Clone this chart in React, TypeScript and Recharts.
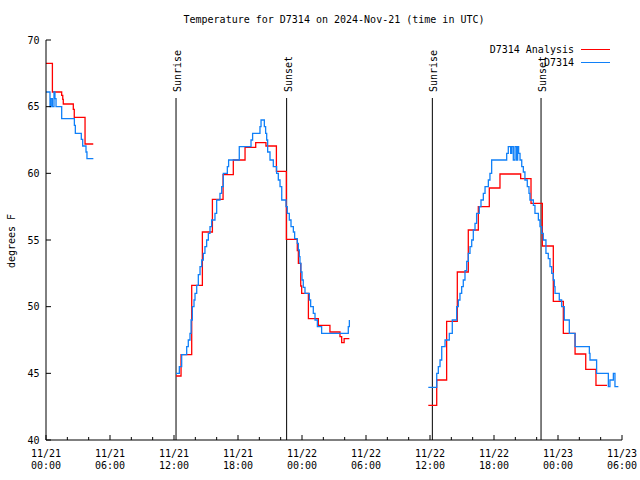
import React from "react";
import { LineChart, Line, XAxis, YAxis, ReferenceLine } from "recharts";

const FONT = "'DejaVu Sans Mono', 'Liberation Mono', monospace";
const RED = "#ff0000";
const BLUE = "#1080f8";

// x = hours since 11/21 00:00 UTC, y = degrees F
const analysisSeg1: [number, number][] = [
  [0, 68.25], [0.6, 66.1], [1.47, 65.85], [1.57, 65.55], [1.62, 65.2],
  [2.56, 64.8], [2.65, 64.2], [3.66, 62.2], [4.43, 62.2],
];
const analysisSeg2: [number, number][] = [
  [12.19, 44.8], [12.66, 46.4], [13.66, 51.6], [14.66, 55.6], [15.6, 58.05],
  [16.6, 59.9], [17.56, 61.0], [18.66, 61.95], [19.66, 62.3], [20.62, 62.05],
  [21.6, 60.15], [22.53, 55.05], [23.56, 54.2], [23.66, 53.25], [23.88, 51.55],
  [23.97, 51.0], [24.6, 49.1], [25.53, 48.6], [26.62, 48.1], [27.56, 47.75],
  [27.72, 47.3], [27.95, 47.6], [28.44, 47.6],
];
const analysisSeg3: [number, number][] = [
  [35.84, 42.6], [36.63, 44.5], [37.56, 48.9], [38.56, 52.6], [39.59, 55.75],
  [40.53, 57.5], [41.56, 58.9], [42.56, 59.95], [44.5, 59.6], [45.47, 57.75],
  [46.53, 54.55], [47.56, 50.4], [48.5, 48.0], [49.6, 46.45], [50.6, 45.3],
  [51.56, 44.1], [52.6, 44.1],
];

const stationSeg1: [number, number][] = [
  [0, 66.1], [0.375, 65.0], [0.47, 65.6], [0.6, 65.0], [0.75, 66.1],
  [0.84, 65.6], [0.94, 65.0], [1.47, 64.1], [2.66, 63.6], [2.75, 63.0],
  [3.31, 62.55], [3.44, 62.05], [3.75, 61.6], [3.84, 61.1], [4.44, 61.1],
];
const stationSeg2: [number, number][] = [
  [12.19, 45.0], [12.5, 45.5], [12.72, 46.4], [13.19, 47.0], [13.34, 47.5],
  [13.5, 48.0], [13.6, 49.0], [13.72, 50.0], [13.875, 50.5], [13.97, 51.0],
  [14.13, 51.6], [14.28, 52.4], [14.44, 53.0], [14.6, 53.5], [14.75, 54.0],
  [14.9, 54.5], [15.06, 55.0], [15.22, 55.5], [15.375, 56.0], [15.53, 56.5],
  [15.84, 57.0], [16.0, 58.0], [16.31, 58.5], [16.47, 59.0], [16.62, 60.0],
  [17.0, 60.5], [17.12, 61.0], [18.12, 62.0], [19.22, 62.5], [19.37, 63.0],
  [20.06, 63.5], [20.16, 64.0], [20.47, 63.5], [20.59, 63.0], [20.69, 62.5],
  [20.78, 61.6], [21.0, 61.0], [21.31, 60.5], [21.62, 60.0], [21.78, 59.5],
  [21.94, 59.0], [22.1, 58.0], [22.5, 57.5], [22.62, 57.0], [22.81, 56.5],
  [22.97, 56.0], [23.19, 55.6], [23.31, 55.1], [23.56, 54.75], [23.66, 54.25],
  [23.75, 53.75], [23.81, 53.25], [23.9, 52.6], [24.0, 52.0], [24.12, 51.45],
  [24.28, 51.0], [24.69, 50.5], [24.81, 50.0], [25.06, 49.5], [25.22, 49.0],
  [25.44, 48.5], [25.84, 48.0], [28.34, 48.5], [28.44, 49.0],
];
const stationSeg3: [number, number][] = [
  [35.84, 43.95], [36.63, 45.0], [36.78, 45.5], [36.94, 46.0], [37.1, 47.0],
  [37.41, 47.5], [37.81, 48.0], [38.09, 49.0], [38.5, 50.0], [38.66, 50.5],
  [38.81, 51.0], [38.97, 51.5], [39.12, 52.0], [39.28, 52.7], [39.44, 53.4],
  [39.59, 54.0], [39.75, 54.5], [39.91, 55.0], [40.06, 55.75], [40.22, 56.25],
  [40.37, 57.0], [40.62, 57.5], [40.78, 58.0], [41.0, 58.5], [41.16, 59.0],
  [41.47, 59.5], [41.62, 60.0], [41.78, 61.0], [43.19, 61.5], [43.34, 62.0],
  [43.56, 61.5], [43.66, 62.0], [43.81, 61.0], [43.97, 62.0], [44.12, 61.0],
  [44.22, 62.0], [44.31, 61.5], [44.44, 61.0], [44.6, 60.5], [44.75, 60.1],
  [44.9, 59.5], [45.12, 59.0], [45.28, 58.5], [45.37, 58.0], [45.69, 57.6],
  [45.84, 57.0], [46.16, 56.5], [46.31, 56.0], [46.47, 55.5], [46.62, 55.0],
  [46.87, 54.0], [47.09, 53.6], [47.25, 53.0], [47.41, 52.5], [47.56, 52.0],
  [47.66, 51.5], [47.72, 51.0], [48.12, 50.5], [48.34, 50.0], [48.59, 49.0],
  [49.06, 48.0], [49.6, 47.0], [50.94, 46.5], [51.0, 46.0], [51.62, 45.0],
  [52.72, 44.0], [52.87, 44.5], [53.19, 45.0], [53.34, 44.0], [53.66, 44.0],
];

const sunriseHours = [12.19, 36.22];
const sunsetHours = [22.56, 46.41];
const sunLineTop = 65.65;

const xTicks = [0, 2, 4, 6, 8, 10, 12, 14, 16, 18, 20, 22, 24, 26, 28, 30, 32, 34, 36, 38, 40, 42, 44, 46, 48, 50, 52, 54];
const yTicks = [40, 45, 50, 55, 60, 65, 70];

const toRows = (segs: [number, number][][]) =>
  segs.flatMap((seg, i) => {
    const rows: { h: number; t: number | null }[] = seg.map(([h, t]) => ({ h, t }));
    if (i < segs.length - 1) rows.push({ h: seg[seg.length - 1][0] + 0.01, t: null });
    return rows;
  });

const analysisData = toRows([analysisSeg1, analysisSeg2, analysisSeg3]);
const stationData = toRows([stationSeg1, stationSeg2, stationSeg3]);

const pad = (n: number) => (n < 10 ? "0" + n : "" + n);

const BottomTick = (props: any) => {
  const { x, y, payload } = props;
  const h = payload.value;
  const major = h % 6 === 0;
  return (
    <g>
      <line x1={x} x2={x} y1={y} y2={y - (major ? 5 : 3)} stroke="#000" />
      {major && (
        <text x={x} y={y} textAnchor="middle" fontFamily={FONT} fontSize={10} fill="#000">
          <tspan x={x} dy={17}>{`11/${21 + Math.floor(h / 24)}`}</tspan>
          <tspan x={x} dy={11.5}>{`${pad(h % 24)}:00`}</tspan>
        </text>
      )}
    </g>
  );
};

const TopTick = (props: any) => {
  const { x, y, payload } = props;
  const major = payload.value % 6 === 0;
  return <line x1={x} x2={x} y1={y} y2={y + (major ? 5 : 3)} stroke="#000" />;
};

const LeftTick = (props: any) => {
  const { x, y, payload } = props;
  return (
    <g>
      <line x1={x} x2={x + 5} y1={y} y2={y} stroke="#000" />
      <text x={x - 6.5} y={y} dy="0.36em" textAnchor="end" fontFamily={FONT} fontSize={10} fill="#000">
        {payload.value}
      </text>
    </g>
  );
};

const RightTick = (props: any) => {
  const { x, y } = props;
  return <line x1={x} x2={x - 5} y1={y} y2={y} stroke="#000" />;
};

const SunLabel = (props: any) => {
  const { viewBox, text } = props;
  const x = viewBox.x + 5;
  const y = viewBox.y - 6;
  return (
    <text x={x} y={y} transform={`rotate(-90 ${x} ${y})`} textAnchor="start" fontFamily={FONT} fontSize={10} fill="#000">
      {text}
    </text>
  );
};

const YLabel = () => (
  <text x={15} y={241} transform="rotate(-90 15 241)" textAnchor="middle" fontFamily={FONT} fontSize={10} fill="#000">
    degrees F
  </text>
);

export default function App() {
  return (
    <div style={{ position: "absolute", left: 0, top: 0, width: 640, height: 480, background: "#fff", fontFamily: FONT, fontSize: 10, color: "#000" }}>
      <div style={{ position: "absolute", left: 0, width: 668, top: 14, lineHeight: "12px", textAlign: "center" }}>
        Temperature for D7314 on 2024-Nov-21 (time in UTC)
      </div>
      <LineChart width={640} height={480} margin={{ top: 40, right: 18, bottom: 0, left: 0 }}>
        <XAxis
          xAxisId="b" type="number" dataKey="h" domain={[0, 54]} ticks={xTicks} interval={0}
          height={40} tickSize={0} tickMargin={0} tickLine={false} tick={<BottomTick />}
          axisLine={{ stroke: "#000" }} allowDataOverflow
        />
        <XAxis
          xAxisId="t" orientation="top" type="number" dataKey="h" domain={[0, 54]} ticks={xTicks} interval={0}
          height={0} tickSize={0} tickMargin={0} tickLine={false} tick={<TopTick />}
          axisLine={{ stroke: "#000" }} allowDataOverflow
        />
        <YAxis
          yAxisId="l" type="number" domain={[40, 70]} ticks={yTicks} interval={0}
          width={46} tickSize={0} tickMargin={0} tickLine={false} tick={<LeftTick />}
          axisLine={{ stroke: "#000" }} label={<YLabel />} allowDataOverflow
        />
        <YAxis
          yAxisId="r" orientation="right" type="number" domain={[40, 70]} ticks={yTicks} interval={0}
          width={0} tickSize={0} tickMargin={0} tickLine={false} tick={<RightTick />}
          axisLine={{ stroke: "#000" }} allowDataOverflow
        />
        {sunriseHours.map((h) => (
          <ReferenceLine
            key={"sr" + h} xAxisId="b" yAxisId="l" stroke="#000"
            segment={[{ x: h, y: 40 }, { x: h, y: sunLineTop }]}
            label={<SunLabel text="Sunrise" />}
          />
        ))}
        {sunsetHours.map((h) => (
          <ReferenceLine
            key={"ss" + h} xAxisId="b" yAxisId="l" stroke="#000"
            segment={[{ x: h, y: 40 }, { x: h, y: sunLineTop }]}
            label={<SunLabel text="Sunset" />}
          />
        ))}
        <Line
          xAxisId="b" yAxisId="l" data={analysisData} dataKey="t" type="stepAfter"
          stroke={RED} strokeWidth={1.3} dot={false} activeDot={false} isAnimationActive={false}
        />
        <Line
          xAxisId="b" yAxisId="l" data={stationData} dataKey="t" type="stepAfter"
          stroke={BLUE} strokeWidth={1.3} dot={false} activeDot={false} isAnimationActive={false}
        />
      </LineChart>
      <div style={{ position: "absolute", right: 66, top: 44, lineHeight: "12px", textAlign: "right" }}>
        D7314 Analysis
      </div>
      <div style={{ position: "absolute", left: 581, top: 49, width: 29, height: 1, background: RED }} />
      <div style={{ position: "absolute", right: 66, top: 56.5, lineHeight: "12px", textAlign: "right" }}>
        D7314
      </div>
      <div style={{ position: "absolute", left: 581, top: 62, width: 29, height: 1, background: BLUE }} />
    </div>
  );
}
